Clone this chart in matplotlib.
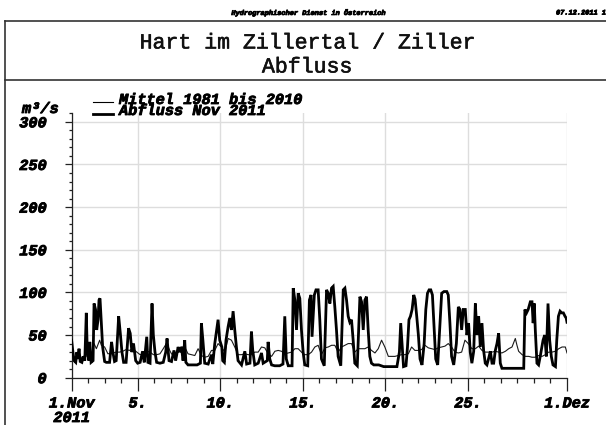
import matplotlib
matplotlib.use("Agg")
import matplotlib.pyplot as plt
import matplotlib.patheffects as pe
from matplotlib.lines import Line2D
from matplotlib.ticker import FixedLocator, MultipleLocator

# ---------------- data ----------------
station_title = "Hart im Zillertal / Ziller"
subtitle = "Abfluss"
header_center = "Hydrographischer Dienst in Österreich"
header_right = "07.12.2011 16:05"
unit_label = "m³/s"
legend_labels = ["Mittel 1981 bis 2010", "Abfluss Nov 2011"]

# x tick positions (days since 1 Nov 2011) and labels
xtick_days = [0, 4, 9, 14, 19, 24, 30]
xtick_labels = ["1.Nov\n2011", "5.", "10.", "15.", "20.", "25.", "1.Dez"]
ytick_values = [0, 50, 100, 150, 200, 250, 300]

# Abfluss Nov 2011 (thick) : day, discharge m3/s
abfluss_day = [
    0.00, 0.08, 0.15, 0.25, 0.32, 0.38, 0.45, 0.52, 0.62, 0.70, 0.80, 0.89, 0.95, 1.05, 1.10,
    1.18, 1.30, 1.36, 1.45, 1.52, 1.60, 1.66, 1.72, 1.80, 1.88, 2.00, 2.10, 2.30, 2.42, 2.50,
    2.60, 2.70, 2.85, 2.95, 3.05, 3.15, 3.30, 3.45, 3.55, 3.65, 3.75, 3.88, 4.00, 4.15, 4.30,
    4.40, 4.55, 4.62, 4.75, 4.87, 4.95, 5.05, 5.15, 5.35, 5.55, 5.70, 5.78, 5.90,
    6.05, 6.20, 6.30, 6.45, 6.55, 6.65, 6.75, 6.85, 6.92, 7.05, 7.30, 7.60, 7.80, 7.86, 7.95,
    8.06, 8.27, 8.47, 8.55, 8.67, 8.87, 8.97, 9.10, 9.15, 9.25, 9.35, 9.48, 9.58, 9.68, 9.78,
    9.88, 9.98, 10.08, 10.29, 10.49, 10.60, 10.80, 10.89, 10.97, 11.09, 11.30, 11.50, 11.60,
    11.85, 11.90, 12.00,
    12.11, 12.30, 12.60, 12.80, 12.91, 13.00, 13.12, 13.35, 13.42, 13.52, 13.62, 13.72, 13.82,
    13.92, 14.02, 14.12, 14.30, 14.40, 14.50, 14.56, 14.70, 14.80, 14.93, 15.03, 15.13, 15.30,
    15.44, 15.54, 15.64, 15.74, 15.84, 15.94, 16.04, 16.14, 16.30, 16.45, 16.55, 16.65, 16.75,
    16.85, 16.95, 17.05, 17.15, 17.30, 17.46, 17.56, 17.66, 17.76, 17.86, 17.96, 18.06, 18.16,
    18.30, 18.60, 18.90, 19.30, 19.70, 19.85, 19.93, 20.03, 20.10, 20.25, 20.34, 20.43, 20.52,
    20.62, 20.72, 20.80, 20.90, 21.00, 21.10, 21.22, 21.35, 21.45, 21.55, 21.65, 21.75, 21.85,
    21.95, 22.05, 22.17, 22.30, 22.41, 22.55, 22.72, 22.81, 22.91, 23.01, 23.14, 23.30, 23.42,
    23.52, 23.62, 23.72, 23.84, 23.94, 24.04, 24.14, 24.24, 24.35, 24.45, 24.55, 24.65, 24.75,
    24.85, 24.95, 25.05, 25.15, 25.26, 25.36, 25.46, 25.56, 25.66, 25.76, 25.86, 25.96, 26.06,
    26.50, 27.00, 27.38, 27.45, 27.55, 27.65, 27.78, 27.88, 27.95, 28.02, 28.08, 28.18, 28.28,
    28.38, 28.55, 28.65, 28.75, 28.85, 28.95, 29.05, 29.15, 29.30, 29.38, 29.48, 29.58, 29.68,
    29.78, 29.88, 29.95, 30.00,
]
abfluss_q = [
    44, 30, 20, 18, 30, 22, 34, 19, 18, 25, 20, 76, 30, 20, 42,
    18, 20, 87, 80, 56, 68, 91, 93, 64, 36, 19, 18, 18, 42, 30,
    19, 20, 72, 52, 30, 18, 18, 58, 52, 30, 40, 20, 17, 18, 31,
    18, 48, 18, 17, 87, 50, 30, 18, 17, 18, 30, 46, 20,
    19, 32, 20, 36, 30, 36, 20, 44, 18, 15, 15, 15, 17, 64, 44,
    17, 16, 27, 16, 40, 68, 44, 36, 20, 18, 44, 60, 70, 56, 78,
    56, 36, 20, 15, 31, 16, 17, 54, 32, 15, 17, 29, 17,
    20, 42, 22,
    15, 14, 14, 16, 72, 22, 14, 14, 105, 91, 56, 99, 93,
    56, 30, 15, 14, 91, 97, 48, 97, 103, 103, 68, 22, 14,
    103, 99, 87, 105, 107, 83, 56, 25, 14, 103, 105, 91, 72,
    65, 68, 44, 17, 14, 95, 89, 56, 91, 95, 56, 25, 17,
    15, 15, 13, 13, 13, 30, 64, 35, 13, 14, 36, 68, 72,
    80, 97, 92, 72, 50, 22, 15, 40, 80, 99, 103, 103, 97,
    60, 22, 15, 60, 99, 101, 101, 97, 64, 25, 15, 40, 83,
    80, 56, 80, 80, 50, 64, 30, 17, 31, 87, 50, 72, 36,
    64, 32, 17, 15, 23, 31, 17, 17, 32, 40, 52, 17, 11,
    11, 11, 11, 80, 76, 80, 89, 89, 64, 87, 56, 17, 15,
    25, 44, 50, 25, 87, 44, 25, 15, 13, 44, 72, 78, 76,
    76, 72, 70, 65,
]

# Mittel 1981 bis 2010 (thin) : day, discharge m3/s
mittel_day = [
    0.00, 0.20, 0.40, 0.60, 0.80, 1.00, 1.20, 1.36, 1.50, 1.70, 1.80, 2.00, 2.20, 2.50, 2.70,
    2.90, 3.10, 3.30, 3.50, 3.70, 3.95, 4.15, 4.35, 4.55, 4.75, 4.95, 5.15, 5.35, 5.55, 5.74,
    5.84, 5.94, 6.05, 6.25, 6.45, 6.65, 6.85, 7.05, 7.26, 7.46, 7.66, 7.86, 8.06, 8.27, 8.47,
    8.67, 8.87, 9.07, 9.28, 9.48, 9.68, 9.88, 10.08, 10.29, 10.49, 10.69, 10.89, 11.09, 11.30,
    11.50, 11.70, 11.90, 12.11, 12.31, 12.51, 12.71, 12.91, 13.12, 13.32, 13.52, 13.72, 13.92,
    14.12, 14.33, 14.53, 14.73, 14.93, 15.13, 15.34, 15.54, 15.74, 15.94, 16.14, 16.35, 16.55,
    16.75, 16.95, 17.15, 17.36, 17.56, 17.76, 17.96, 18.16, 18.37, 18.57, 18.77, 18.97, 19.18,
    19.38, 19.58, 19.78, 19.98, 20.19, 20.39, 20.59, 20.79, 20.99, 21.20, 21.40, 21.60, 21.80,
    22.00, 22.20, 22.41, 22.61, 22.81, 23.01, 23.21, 23.42, 23.62, 23.82, 24.02, 24.24, 24.45,
    24.65, 24.85, 25.05, 25.26, 25.46, 25.66, 25.86, 26.06, 26.27, 26.47, 26.67, 26.87, 26.97,
    27.07, 27.28, 27.48, 27.68, 27.88, 28.08, 28.28, 28.49, 28.69, 28.89, 29.09, 29.30, 29.50,
    29.70, 29.90, 30.00,
]
mittel_q = [
    28, 23, 24, 23, 26, 25, 27, 40, 34, 44, 38, 36, 28, 29, 30,
    30, 31, 33, 32, 34, 30, 27, 28, 31, 30, 27, 27, 28, 34, 40,
    37, 32, 28, 25, 30, 36, 36, 28, 27, 26, 34, 26, 24, 25, 32,
    32, 40, 36, 30, 46, 44, 36, 27, 27, 28, 27, 27, 30, 30,
    36, 35, 28, 25, 31, 32, 31, 28, 29, 30, 34, 34, 30,
    27, 27, 30, 36, 38, 27, 35, 36, 38, 38, 30, 36, 38,
    40, 40, 30, 34, 34, 34, 36, 32, 29, 34, 44, 36, 25,
    25, 25, 26, 27, 27, 28, 36, 32, 32, 33, 38, 35, 34,
    33, 35, 36, 37, 40, 36, 30, 29, 30, 44, 40, 34, 34,
    37, 32, 30, 30, 30, 31, 30, 29, 31, 34, 36, 46, 38,
    31, 27, 25, 25, 24, 24, 26, 25, 27, 30, 30, 31, 34,
    36, 36, 29,
]

# ---------------- figure ----------------
W, H = 606, 425
fig = plt.figure(figsize=(W / 100, H / 100), dpi=100)
fig.patch.set_facecolor("white")

mono = "Liberation Mono"
heavy = [pe.withStroke(linewidth=0.6, foreground="black")]


def fx(px):
    return px / W


def fy(py):
    return 1 - py / H


# outer frame
frame_kw = dict(color="#333333", linewidth=1.2, transform=fig.transFigure)
fig.add_artist(Line2D([fx(5), 1.0], [fy(21), fy(21)], **frame_kw))
fig.add_artist(Line2D([fx(5), 1.0], [fy(80), fy(80)], **frame_kw))
fig.add_artist(Line2D([fx(5), fx(5)], [fy(21), 0.0], **frame_kw))

# header texts
fig.text(fx(310), fy(13), header_center, family=mono, weight="bold", style="italic",
         fontsize=5, ha="center", va="center", path_effects=heavy)
fig.text(fx(556), fy(13), header_right, family=mono, weight="bold", style="italic",
         fontsize=5, ha="left", va="center", path_effects=heavy)

# title
title_fx = [pe.withStroke(linewidth=0.4, foreground="#111111")]
fig.text(fx(307), fy(43), station_title, family=mono, fontsize=15.5,
         ha="center", va="center", color="#111111", path_effects=title_fx)
fig.text(fx(307), fy(67), subtitle, family=mono, fontsize=15.5,
         ha="center", va="center", color="#111111", path_effects=title_fx)

# axes
ax_left, ax_right = 71.6, 567.0
ax_bottom, ax_top = 377.7, 113.3
ax = fig.add_axes([fx(ax_left), fy(ax_bottom), (ax_right - ax_left) / W,
                   (ax_bottom - ax_top) / H])
ax.set_xlim(0, 30)
ax.set_ylim(0, 310)

for s in ["top", "right"]:
    ax.spines[s].set_visible(False)
for s in ["left", "bottom"]:
    ax.spines[s].set_linewidth(0.9)
    ax.spines[s].set_color("#222222")

ax.xaxis.set_major_locator(FixedLocator(xtick_days))
ax.xaxis.set_minor_locator(MultipleLocator(1))
ax.set_xticklabels(xtick_labels)
ax.yaxis.set_major_locator(FixedLocator(ytick_values))
ax.yaxis.set_minor_locator(MultipleLocator(10))

ax.grid(True, which="major", color="#dddddd", linewidth=1.0)
ax.set_axisbelow(True)

ax.tick_params(axis="x", which="major", length=9.5, width=0.9, pad=4, color="#222222")
ax.tick_params(axis="x", which="minor", length=3.3, width=0.9, color="#222222")
ax.tick_params(axis="y", which="major", length=5, width=0.9, pad=13, color="#222222")
ax.tick_params(axis="y", which="minor", length=2.3, width=0.9, color="#222222")

for lab in ax.get_xticklabels() + ax.get_yticklabels():
    lab.set_fontfamily(mono)
    lab.set_fontweight("bold")
    lab.set_fontstyle("italic")
    lab.set_fontsize(11)
    lab.set_path_effects(heavy)
for lab in ax.get_xticklabels():
    lab.set_linespacing(1.05)

# series
ax.plot(mittel_day, mittel_q, color="#1a1a1a", linewidth=0.8, zorder=3)
ax.plot(abfluss_day, abfluss_q, color="black", linewidth=2.0, zorder=4,
        solid_joinstyle="miter")

# unit label
fig.text(fx(22), fy(109), unit_label, family=mono, weight="bold", style="italic",
         fontsize=11, ha="left", va="center", path_effects=heavy)

# legend (manual)
leg_text_rows = [100, 111]
leg_line_rows = [102, 114]
leg_widths = [0.8, 2.0]
for lbl, trow, lrow, lw in zip(legend_labels, leg_text_rows, leg_line_rows, leg_widths):
    fig.add_artist(Line2D([fx(93), fx(113)], [fy(lrow), fy(lrow)], color="black",
                          linewidth=lw, transform=fig.transFigure))
    fig.text(fx(119), fy(trow), lbl, family=mono, weight="bold", style="italic",
             fontsize=11, ha="left", va="center", path_effects=heavy)

fig.savefig("out.png", dpi=100, facecolor="white")
